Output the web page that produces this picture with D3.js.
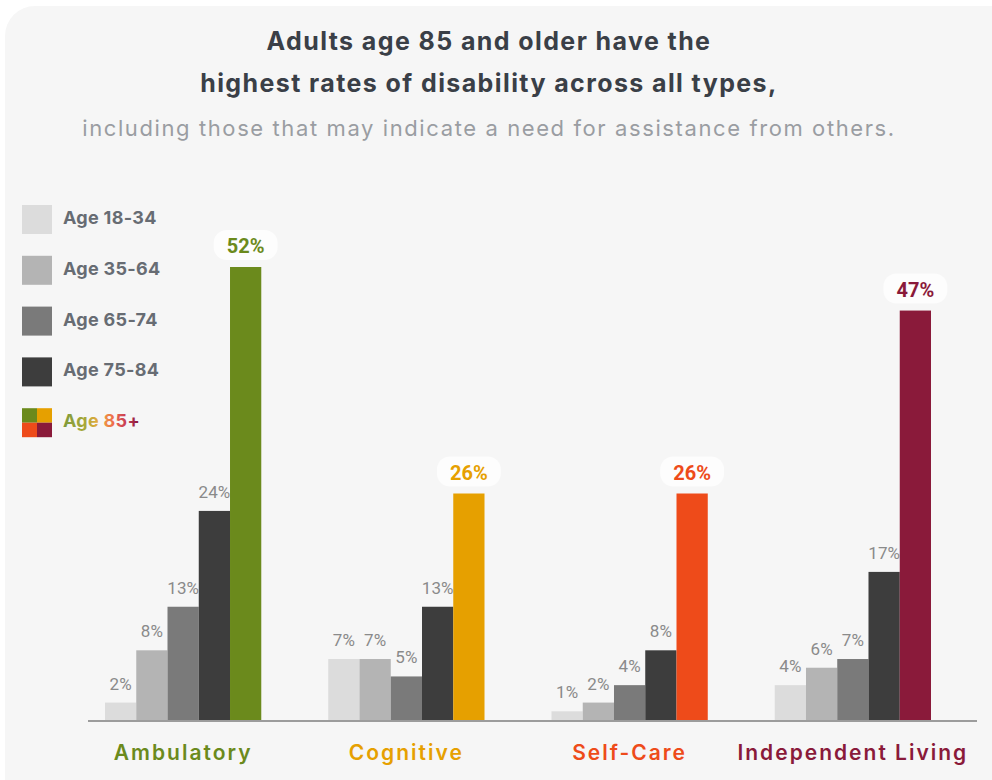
<!DOCTYPE html>
<html>
<head>
<meta charset="utf-8">
<script src="https://cdn.jsdelivr.net/npm/d3@7"></script>
<style>
  html, body { margin: 0; padding: 0; background: #fff; }
  svg { display: block; }
  .title { font-family: Inter, "Noto Sans", sans-serif; font-weight: 700; font-size: 25px; letter-spacing: 1.4px; fill: #3a3f47; }
  .subtitle { font-family: Inter, "Noto Sans", sans-serif; font-weight: 400; font-size: 22px; letter-spacing: 1.6px; fill: #9a9da2; }
  .legend-text { font-family: Inter, Roboto, sans-serif; font-weight: 700; font-size: 18px; letter-spacing: 0.3px; fill: #676c73; }
  .value { font-family: Roboto, sans-serif; font-size: 17px; fill: #8a8a8a; }
  .value-top { font-family: Roboto, sans-serif; font-weight: 700; font-size: 20px; }
  .category { font-family: Inter, Roboto, sans-serif; font-weight: 600; font-size: 21px; letter-spacing: 2px; }
</style>
</head>
<body>
<svg width="992" height="780"></svg>
<script>
const categories = ["Ambulatory", "Cognitive", "Self-Care", "Independent Living"];
const ageGroups = ["Age 18-34", "Age 35-64", "Age 65-74", "Age 75-84", "Age 85+"];
const age18to34 = [2, 7, 1, 4];
const age35to64 = [8, 7, 2, 6];
const age65to74 = [13, 5, 4, 7];
const age75to84 = [24, 13, 8, 17];
const age85plus = [52, 26, 26, 47];
const greys = ["#dcdcdc", "#b4b4b4", "#7a7a7a", "#3d3d3d"];
const categoryColors = ["#6b8a1c", "#e6a000", "#ee4b1a", "#8a1a3a"];

const render = () => {
  const svg = d3.select("svg");
  const width = +svg.attr("width");
  const height = +svg.attr("height");
  const series = [age18to34, age35to64, age65to74, age75to84, age85plus];

  // background panel
  svg.append("rect")
    .attr("x", 5).attr("y", 6)
    .attr("width", width + 40).attr("height", height + 40)
    .attr("rx", 30)
    .attr("fill", "#f6f6f6");

  // titles
  const titleLines = ["Adults age 85 and older have the", "highest rates of disability across all types,"];
  svg.selectAll(".title")
    .data(titleLines)
    .enter()
    .append("text")
    .attr("class", "title")
    .attr("x", 489)
    .attr("y", (d, i) => 50 + i * 42)
    .attr("text-anchor", "middle")
    .text((d) => d);
  svg.append("text")
    .attr("class", "subtitle")
    .attr("x", 489)
    .attr("y", 136)
    .attr("text-anchor", "middle")
    .text("including those that may indicate a need for assistance from others.");

  // scales
  const baseline = 720;
  const xScale = d3.scaleBand()
    .domain(categories)
    .range([105, 931])
    .paddingInner(0.3)
    .paddingOuter(0);
  const xInner = d3.scaleBand()
    .domain(ageGroups)
    .range([0, xScale.bandwidth()])
    .padding(0);
  const yScale = d3.scaleLinear()
    .domain([0, 52])
    .range([baseline, 267]);

  const barColor = (gi, ci) => (gi < 4 ? greys[gi] : categoryColors[ci]);

  const rows = [];
  series.forEach((vals, gi) => {
    vals.forEach((v, ci) => {
      rows.push({ group: ageGroups[gi], gi, cat: categories[ci], ci, value: v });
    });
  });

  const g = svg.append("g");
  g.selectAll("rect.bar")
    .data(rows)
    .enter()
    .append("rect")
    .attr("class", "bar")
    .attr("x", (d) => xScale(d.cat) + xInner(d.group))
    .attr("y", (d) => yScale(d.value))
    .attr("width", xInner.bandwidth())
    .attr("height", (d) => baseline - yScale(d.value))
    .attr("fill", (d) => barColor(d.gi, d.ci));

  // value labels for grey bars
  g.selectAll("text.value")
    .data(rows.filter((d) => d.gi < 4))
    .enter()
    .append("text")
    .attr("class", "value")
    .attr("x", (d) => xScale(d.cat) + xInner(d.group) + xInner.bandwidth() / 2)
    .attr("y", (d) => yScale(d.value) - 13)
    .attr("text-anchor", "middle")
    .text((d) => d.value + "%");

  // 85+ labels with white pill
  const top = rows.filter((d) => d.gi === 4);
  const cx = (d) => xScale(d.cat) + xInner(d.group) + xInner.bandwidth() / 2;
  g.selectAll("rect.pill")
    .data(top)
    .enter()
    .append("rect")
    .attr("class", "pill")
    .attr("x", (d) => cx(d) - 32)
    .attr("y", (d) => yScale(d.value) - 37)
    .attr("width", 64)
    .attr("height", 30)
    .attr("rx", 13)
    .attr("fill", "#ffffff")
    .attr("opacity", 0.75);
  g.selectAll("text.value-top")
    .data(top)
    .enter()
    .append("text")
    .attr("class", "value-top")
    .attr("x", cx)
    .attr("y", (d) => yScale(d.value) - 14)
    .attr("text-anchor", "middle")
    .attr("fill", (d) => categoryColors[d.ci])
    .text((d) => d.value + "%");

  // baseline axis
  svg.append("line")
    .attr("x1", xScale.range()[0] - 17)
    .attr("x2", xScale.range()[1] + 46)
    .attr("y1", baseline + 1)
    .attr("y2", baseline + 1)
    .attr("stroke", "#9c9c9c")
    .attr("stroke-width", 2);

  // category labels
  svg.selectAll("text.category")
    .data(categories)
    .enter()
    .append("text")
    .attr("class", "category")
    .attr("x", (d) => xScale(d) + xScale.bandwidth() / 2)
    .attr("y", 760)
    .attr("text-anchor", "middle")
    .attr("fill", (d, i) => categoryColors[i])
    .text((d) => d);

  // legend
  const legend = svg.append("g").attr("transform", "translate(22,205)");
  const item = legend.selectAll("g")
    .data(ageGroups)
    .enter()
    .append("g")
    .attr("transform", (d, i) => `translate(0,${i * 50.8})`);
  item.filter((d, i) => i < 4)
    .append("rect")
    .attr("width", 30)
    .attr("height", 29)
    .attr("fill", (d, i) => greys[i]);

  const quad = item.filter((d, i) => i === 4);
  categoryColors.forEach((c, i) => {
    quad.append("rect")
      .attr("x", (i % 2) * 15)
      .attr("y", Math.floor(i / 2) * 14.5)
      .attr("width", 15)
      .attr("height", 14.5)
      .attr("fill", c);
  });

  const defs = svg.append("defs");
  const grad = defs.append("linearGradient")
    .attr("id", "ageGrad")
    .attr("gradientUnits", "userSpaceOnUse")
    .attr("x1", 41).attr("x2", 116)
    .attr("y1", 0).attr("y2", 0);
  grad.append("stop").attr("offset", "0%").attr("stop-color", "#7d9a3c");
  grad.append("stop").attr("offset", "30%").attr("stop-color", "#a9a83a");
  grad.append("stop").attr("offset", "48%").attr("stop-color", "#ebaa3e");
  grad.append("stop").attr("offset", "68%").attr("stop-color", "#ee6a4c");
  grad.append("stop").attr("offset", "85%").attr("stop-color", "#c43a55");
  grad.append("stop").attr("offset", "100%").attr("stop-color", "#8a1a3a");

  item.append("text")
    .attr("class", "legend-text")
    .attr("x", 41)
    .attr("y", 19)
    .style("fill", (d, i) => (i === 4 ? "url(#ageGrad)" : null))
    .text((d) => d);
};

render();
</script>
</body>
</html>
